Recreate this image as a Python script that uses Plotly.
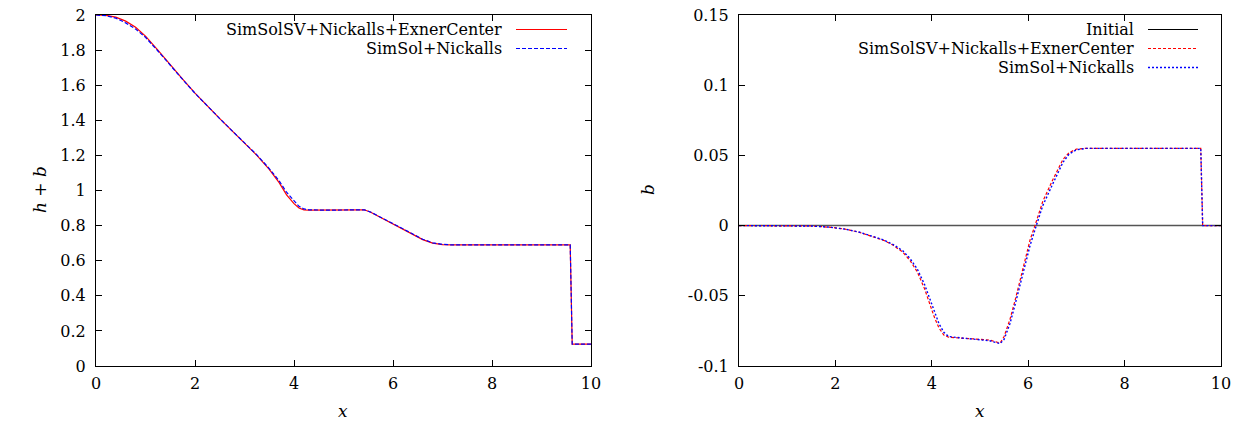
import plotly.graph_objects as go

# ---- free-surface elevation h+b (left panel) ----
x_hb_sv = [0, 0.2, 0.4, 0.6, 0.8, 1.0, 1.25, 1.5, 1.75, 2.0, 2.25, 2.5, 2.75, 3.0,
           3.25, 3.5, 3.7, 3.85, 4.0, 4.1, 4.2, 4.3, 4.6, 5.0, 5.3, 5.42, 5.55, 5.8,
           6.0, 6.2, 6.4, 6.6, 6.8, 7.0, 7.2, 8.0, 9.0, 9.55, 9.58, 9.62, 10]
hb_sv = [2.0, 1.998, 1.988, 1.965, 1.93, 1.88, 1.80, 1.715, 1.635, 1.555, 1.48, 1.41,
         1.34, 1.27, 1.20, 1.12, 1.045, 0.975, 0.925, 0.90, 0.89, 0.888, 0.888, 0.889,
         0.891, 0.89, 0.876, 0.84, 0.81, 0.78, 0.75, 0.72, 0.70, 0.692, 0.69, 0.69,
         0.69, 0.69, 0.69, 0.125, 0.125]

x_hb_sim = [0, 0.2, 0.4, 0.6, 0.8, 1.0, 1.25, 1.5, 1.75, 2.0, 2.25, 2.5, 2.75, 3.0,
            3.25, 3.5, 3.7, 3.85, 4.0, 4.1, 4.2, 4.3, 4.6, 5.0, 5.3, 5.42, 5.55, 5.8,
            6.0, 6.2, 6.4, 6.6, 6.8, 7.0, 7.2, 8.0, 9.0, 9.55, 9.58, 9.62, 10]
hb_sim = [2.0, 1.996, 1.982, 1.955, 1.92, 1.873, 1.795, 1.712, 1.633, 1.554, 1.48, 1.41,
          1.34, 1.271, 1.203, 1.125, 1.055, 0.99, 0.94, 0.91, 0.895, 0.89, 0.888, 0.889,
          0.891, 0.89, 0.877, 0.842, 0.812, 0.782, 0.752, 0.722, 0.702, 0.693, 0.69,
          0.69, 0.69, 0.69, 0.69, 0.125, 0.125]

# ---- bed elevation b (right panel) ----
x_init = [0, 10]
b_init = [0, 0]

x_b_sv = [0, 1.0, 1.5, 1.9, 2.2, 2.5, 2.8, 3.0, 3.2, 3.4, 3.55, 3.7, 3.85, 3.95,
          4.05, 4.15, 4.25, 4.35, 4.6, 4.9, 5.2, 5.35, 5.42, 5.5, 5.62, 5.73, 5.85,
          5.95, 6.04, 6.14, 6.3, 6.5, 6.72, 6.85, 7.0, 7.2, 8.0, 9.0, 9.58, 9.62, 10]
b_sv = [0, 0, -0.0003, -0.0012, -0.0025, -0.0048, -0.008, -0.0105, -0.014, -0.019,
        -0.025, -0.033, -0.045, -0.055, -0.065, -0.073, -0.078, -0.0795, -0.080,
        -0.0805, -0.0815, -0.083, -0.0835, -0.079, -0.067, -0.053, -0.036, -0.022,
        -0.010, 0.0, 0.017, 0.032, 0.047, 0.052, 0.0545, 0.055, 0.055, 0.055, 0.055,
        0.0, 0.0]

x_b_sim = [0, 1.0, 1.5, 1.9, 2.2, 2.5, 2.8, 3.0, 3.2, 3.4, 3.55, 3.7, 3.85, 3.95,
           4.05, 4.15, 4.25, 4.35, 4.6, 4.9, 5.2, 5.35, 5.42, 5.5, 5.62, 5.73, 5.85,
           5.95, 6.04, 6.14, 6.3, 6.5, 6.72, 6.85, 7.0, 7.2, 8.0, 9.0, 9.58, 9.62, 10]
b_sim = [0, 0, -0.0003, -0.0012, -0.0025, -0.0047, -0.0078, -0.0102, -0.0135, -0.018,
         -0.0235, -0.031, -0.042, -0.051, -0.061, -0.070, -0.076, -0.079, -0.080,
         -0.0808, -0.082, -0.0835, -0.084, -0.081, -0.070, -0.056, -0.040, -0.026,
         -0.014, -0.003, 0.014, 0.029, 0.045, 0.051, 0.054, 0.055, 0.055, 0.055, 0.055,
         0.0, 0.0]

labels_left = ["SimSolSV+Nickalls+ExnerCenter", "SimSol+Nickalls"]
labels_right = ["Initial", "SimSolSV+Nickalls+ExnerCenter", "SimSol+Nickalls"]

FONT = "DejaVu Serif"
FS = 16
W, H = 1243, 423

RED = "#ff0000"
BLUE = "#0000ff"
INIT = "#555555"

RED_DASH = "3px,2px"
BLUE_DOT = "2px,2px"
BLUE_DASH = "4px,2px"

fig = go.Figure()

fig.add_trace(go.Scatter(x=x_hb_sv, y=hb_sv, mode="lines", xaxis="x", yaxis="y",
                         line=dict(color=RED, width=1.2), showlegend=False))
fig.add_trace(go.Scatter(x=x_hb_sim, y=hb_sim, mode="lines", xaxis="x", yaxis="y",
                         line=dict(color=BLUE, width=1.2, dash=BLUE_DASH), showlegend=False))

fig.add_trace(go.Scatter(x=x_init, y=b_init, mode="lines", xaxis="x2", yaxis="y2",
                         line=dict(color=INIT, width=1.5), showlegend=False))
fig.add_trace(go.Scatter(x=x_b_sv, y=b_sv, mode="lines", xaxis="x2", yaxis="y2",
                         line=dict(color=RED, width=1.2, dash=RED_DASH), showlegend=False))
fig.add_trace(go.Scatter(x=x_b_sim, y=b_sim, mode="lines", xaxis="x2", yaxis="y2",
                         line=dict(color=BLUE, width=1.4, dash=BLUE_DOT), showlegend=False))


def px(v):
    return v / W


def py(v):
    return 1 - v / H


axis_common = dict(showline=True, linecolor="black", linewidth=1, mirror="ticks",
                   ticks="inside", ticklen=6, tickcolor="black", showgrid=False,
                   zeroline=False, automargin=False,
                   tickfont=dict(family=FONT, size=FS, color="black"))

L0, L1 = 96, 591
R0, R1 = 739, 1221
T0, B0 = 15, 366

fig.update_layout(
    width=W, height=H,
    margin=dict(l=0, r=0, t=0, b=0, autoexpand=False),
    paper_bgcolor="white", plot_bgcolor="white",
    font=dict(family=FONT, size=FS, color="black"),
    xaxis=dict(domain=[px(L0), px(L1)], range=[0, 10], tickvals=[0, 2, 4, 6, 8, 10],
               anchor="y", ticklabelstandoff=3, **axis_common),
    yaxis=dict(domain=[py(B0), py(T0)], range=[0, 2],
               tickvals=[0, 0.2, 0.4, 0.6, 0.8, 1, 1.2, 1.4, 1.6, 1.8, 2],
               ticktext=["0", "0.2", "0.4", "0.6", "0.8", "1", "1.2", "1.4", "1.6", "1.8", "2"],
               anchor="x", ticklabelstandoff=6, **axis_common),
    xaxis2=dict(domain=[px(R0), px(R1)], range=[0, 10], tickvals=[0, 2, 4, 6, 8, 10],
                anchor="y2", ticklabelstandoff=3, **axis_common),
    yaxis2=dict(domain=[py(B0), py(T0)], range=[-0.1, 0.15],
                tickvals=[-0.1, -0.05, 0, 0.05, 0.1, 0.15],
                ticktext=["-0.1", "-0.05", "0", "0.05", "0.1", "0.15"],
                anchor="x2", ticklabelstandoff=6, **axis_common),
)

annotations = []
shapes = []

title_font = dict(family=FONT, size=FS + 1)
# axis titles
annotations += [
    dict(text="<i>h</i> + <i>b</i>", x=px(40), y=py(190), textangle=-90),
    dict(text="<i>x</i>", x=px(343), y=py(411)),
    dict(text="<i>b</i>", x=px(648), y=py(190), textangle=-90),
    dict(text="<i>x</i>", x=px(980), y=py(411)),
]
for a in annotations:
    a.update(xref="paper", yref="paper", xanchor="center", yanchor="middle",
             showarrow=False, font=title_font)

# key boxes: right-aligned labels with line samples to the right
key_left = [(labels_left[0], RED, "solid", 1.2), (labels_left[1], BLUE, BLUE_DASH, 1.2)]
for i, (lab, col, dash, wd) in enumerate(key_left):
    yy = 29.5 + 19 * i
    annotations.append(dict(text=lab, x=px(504), y=py(yy), xref="paper", yref="paper",
                            xanchor="right", yanchor="middle", showarrow=False,
                            font=dict(family=FONT, size=FS)))
    shapes.append(dict(type="line", xref="paper", yref="paper", x0=px(516), x1=px(567),
                       y0=py(yy), y1=py(yy), line=dict(color=col, width=wd, dash=dash)))

key_right = [(labels_right[0], "#000000", "solid", 1), (labels_right[1], RED, RED_DASH, 1.2),
             (labels_right[2], BLUE, BLUE_DOT, 1.4)]
for i, (lab, col, dash, wd) in enumerate(key_right):
    yy = 29.5 + 19 * i
    annotations.append(dict(text=lab, x=px(1136), y=py(yy), xref="paper", yref="paper",
                            xanchor="right", yanchor="middle", showarrow=False,
                            font=dict(family=FONT, size=FS)))
    shapes.append(dict(type="line", xref="paper", yref="paper", x0=px(1148), x1=px(1198),
                       y0=py(yy), y1=py(yy), line=dict(color=col, width=wd, dash=dash)))

fig.update_layout(annotations=annotations, shapes=shapes)

fig.write_html("out.html")
